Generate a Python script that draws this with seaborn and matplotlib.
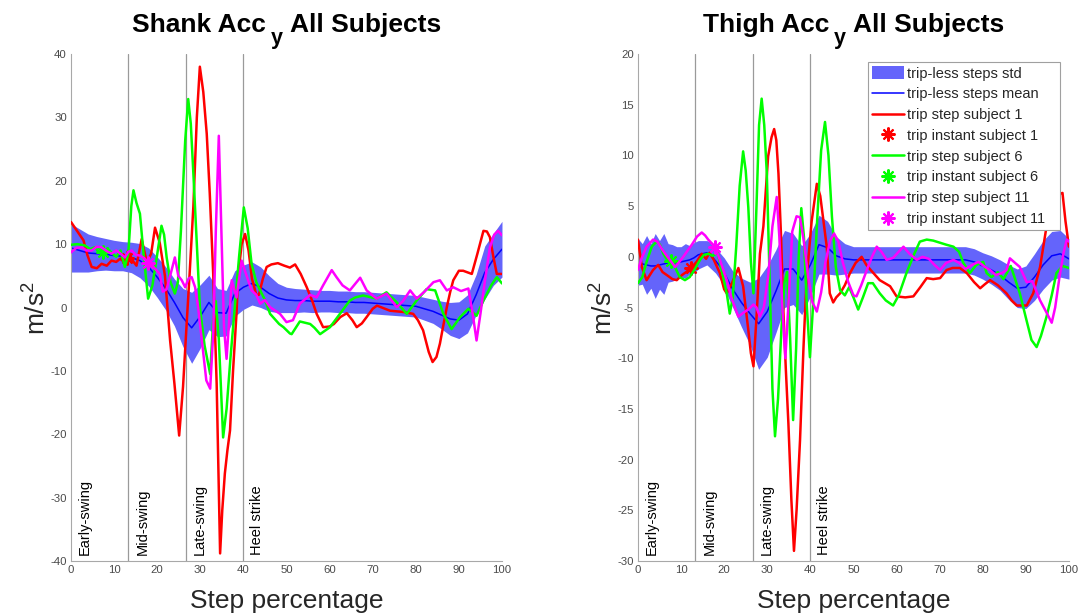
import matplotlib
matplotlib.use("Agg")
import numpy as np
import matplotlib.pyplot as plt
import seaborn as sns
from matplotlib.lines import Line2D
from matplotlib.patches import Patch

# ---------------------------------------------------------------- data
phase_bounds = [0.0, 13.33, 26.67, 40.0]
phase_names = ["Early-swing", "Mid-swing", "Late-swing", "Heel strike"]

# Shank: trip-less steps (mean and std)
shank_band_x = list(range(0, 101, 2))
shank_mean = [9.4, 9.0, 8.6, 8.5, 8.4, 8.2, 8.1, 7.9, 7.4, 6.4, 4.8, 3.0, 0.8, -1.6, -3.2, -1.4,
              0.8, -0.8, -0.9, 2.2, 3.2, 3.8, 3.2, 2.2, 1.5, 1.2, 1.1, 1.1, 1.0, 1.0, 1.0, 0.9,
              0.9, 0.8, 0.8, 0.7, 0.6, 0.5, 0.4, 0.3, 0.2, -0.2, -0.6, -1.2, -1.8, -2.0, -1.0,
              2.0, 5.5, 7.6, 9.2]
shank_std = [3.8, 3.4, 3.0, 2.7, 2.5, 2.4, 2.3, 2.4, 2.7, 3.0, 3.2, 3.4, 3.7, 4.6, 5.6, 5.0,
             4.3, 3.8, 3.6, 3.6, 3.5, 3.4, 3.2, 2.8, 2.3, 2.0, 1.9, 1.8, 1.8, 1.7, 1.7, 1.7,
             1.7, 1.7, 1.7, 1.7, 1.7, 1.7, 1.7, 1.7, 1.7, 1.8, 1.9, 2.2, 2.6, 2.9, 3.0,
             3.2, 4.2, 4.1, 4.4]

# Shank: trip steps
shank_s1_x = [0, 1.5, 2.9, 3.8, 4.8, 6.0, 7.1, 8.3, 9.4, 10.5, 11.4, 12.5, 13.3, 14.2, 15.2, 16.4,
              17.6, 18.6, 19.5, 20.6, 21.8, 23.0, 24.0, 25.1, 26.0, 26.8, 27.5, 28.4, 29.2, 29.9,
              30.7, 31.5, 32.2, 33.0, 33.8, 34.6, 35.1, 35.7, 36.3, 36.9, 37.6, 38.4, 38.8, 39.6,
              40.4, 41.2, 42.0, 43.0, 43.6, 44.5, 45.4, 46.5, 48.0, 49.5, 50.8, 52.0, 53.3, 54.7,
              56.0, 57.0, 58.5, 60.0, 61.0, 62.5, 64.0, 65.3, 66.3, 67.5, 68.6, 70.0, 71.0, 72.5,
              74.0, 75.5, 77.1, 79.4, 80.5, 81.7, 83.0, 83.9, 84.8, 85.6, 86.4, 87.2, 88.0, 88.7,
              90.0, 91.0, 93.0, 94.3, 95.7, 96.5, 97.2, 98.0, 98.8, 100]
shank_s1_y = [13.5, 12.0, 10.6, 8.3, 6.4, 6.2, 6.9, 6.6, 7.4, 7.2, 7.7, 7.1, 9.0, 7.5, 6.6, 10.8,
              7.1, 8.5, 12.6, 10.2, 5.0, -5.2, -12.0, -20.2, -12.5, -3.0, 5.0, 16.0, 30.0, 38.0,
              34.0, 27.4, 18.0, 5.3, -12.0, -38.8, -32.0, -26.2, -22.5, -19.4, -10.0, -1.0, 5.0, 10.0,
              11.6, 9.0, 4.5, 2.0, 2.0, 4.5, 6.4, 6.8, 7.0, 6.6, 6.3, 6.8, 5.3, 3.2,
              1.0, -1.0, -3.1, -3.0, -2.6, -1.5, -0.9, -2.0, -3.1, -2.5, -1.5, -0.2, 0.3, -0.1,
              -0.5, -0.6, -0.7, -1.0, -2.0, -3.6, -7.0, -8.6, -7.8, -5.7, -2.8, 0.05, 2.5, 4.3,
              5.8, 5.8, 5.3, 8.5, 12.1, 12.0, 11.1, 8.0, 5.3, 5.3]

shank_s6_x = [0, 1.5, 3.2, 4.5, 5.5, 6.5, 7.5, 8.5, 9.5, 10.5, 11.5, 12.5, 13.3, 14.0, 14.5, 15.2,
              16.0, 16.9, 17.9, 18.9, 19.9, 21.0, 21.6, 22.2, 23.1, 24.1, 24.8, 25.5, 26.5, 27.2,
              27.8, 28.4, 29.2, 29.9, 31.0, 32.3, 33.0, 33.6, 34.3, 35.3, 36.1, 37.0, 38.0, 39.0,
              40.1, 41.0, 41.9, 43.0, 43.9, 45.0, 46.2, 48.3, 49.3, 50.8, 51.2, 53.1, 55.5, 56.5,
              57.8, 60.1, 62.4, 64.7, 66.0, 67.8, 70.9, 73.2, 75.6, 77.9, 80.2, 82.5, 84.5, 86.4,
              88.3, 90.3, 92.2, 94.1, 95.7, 97.5, 98.8, 100]
shank_s6_y = [9.9, 10.0, 9.8, 9.2, 9.5, 8.8, 8.7, 9.3, 8.6, 8.0, 9.0, 6.4, 8.5, 16.0, 18.5, 16.5,
              14.8, 8.0, 1.4, 3.5, 7.9, 12.9, 11.5, 7.9, 4.0, 2.2, 4.0, 12.0, 26.3, 32.9,
              29.0, 21.1, 10.0, 0.05, -6.0, -10.5, -2.0, 1.0, -5.0, -20.5, -16.0, -8.0, 0.0, 8.0,
              15.8, 12.5, 6.9, 4.0, 2.7, 1.2, -1.0, -2.6, -3.1, -4.1, -4.2, -2.2, -2.6, -3.2,
              -4.2, -3.1, -1.0, 1.1, 1.6, 1.9, 1.4, 2.4, 0.8, -1.0, 1.1, 2.9, 2.7, -1.0,
              -3.4, -1.5, -0.2, -1.3, 1.1, 3.5, 4.8, 3.8]

shank_s11_x = [0, 1.2, 2.5, 3.6, 4.8, 6.0, 7.1, 8.3, 9.4, 10.5, 11.5, 12.5, 13.3, 14.1, 15.0, 16.0,
               17.0, 17.9, 19.0, 20.6, 21.3, 22.2, 23.2, 24.1, 24.9, 25.7, 26.5, 27.3, 28.0, 28.8,
               29.5, 30.5, 31.4, 32.3, 33.0, 33.6, 34.3, 34.9, 35.5, 36.1, 36.7, 37.3, 38.4, 39.6,
               40.5, 41.9, 43.0, 43.9, 45.0, 46.2, 48.5, 50.0, 51.5, 53.1, 55.5, 57.0, 58.5, 60.5,
               61.6, 63.0, 64.7, 67.1, 68.6, 70.9, 73.2, 75.6, 77.0, 78.7, 80.2, 82.0, 84.1, 85.6,
               87.2, 88.7, 90.5, 92.2, 93.2, 94.1, 95.0, 96.0, 97.2, 98.2, 99.1, 100]
shank_s11_y = [8.7, 9.4, 9.5, 9.0, 9.0, 9.6, 9.5, 8.9, 8.5, 9.0, 8.5, 7.9, 8.8, 9.0, 8.3, 8.2,
               7.8, 7.1, 6.5, 5.3, 2.5, 2.9, 5.5, 7.9, 5.0, 4.3, 3.2, 4.6, 4.8, 3.2,
               0.05, -6.0, -11.5, -12.8, -4.0, 12.0, 27.1, 12.0, -3.0, -8.1, -2.0, 4.3, 1.6, 7.4,
               5.5, 2.7, 2.0, 0.6, 1.2, 0.05, -1.0, -2.3, -2.0, 0.6, 2.0, 1.6, 3.5, 5.9,
               4.8, 3.5, 2.7, 4.7, 2.7, 1.4, 2.2, 0.05, 1.0, 2.7, 1.4, 2.5, 4.0, 4.3,
               2.7, 3.2, 2.6, 3.0, -1.0, -5.2, -1.0, 4.0, 9.5, 11.5, 12.1, 11.4]

# Shank: trip instants (x, y) per subject
shank_trip_x = [13.0, 7.5, 17.9]
shank_trip_y = [7.8, 8.7, 7.1]

# Thigh: trip-less steps (mean and std)
thigh_band_x = list(range(0, 21)) + list(range(22, 101, 2))
thigh_mean = [-0.5, -0.7, -0.8, -0.9, -0.9, -0.8, -0.7, -0.6, -0.6, -0.6, -0.5, -0.4, -0.3, -0.1,
              0.2, 0.3, 0.4, 0.1, -0.4, -0.9, -1.6,
              -3.2, -4.5, -5.6, -6.6, -5.4, -3.4, -1.2, -1.2, -2.3, -0.8, 1.2, 0.9, 0.1, -0.2,
              -0.3, -0.3, -0.3, -0.3, -0.3, -0.3, -0.3, -0.3, -0.3, -0.3, -0.3, -0.3, -0.3, -0.3,
              -0.5, -0.9, -1.3, -1.8, -2.5, -3.1, -3.0, -2.0, -0.8, 0.1, 0.3, -0.2]
thigh_std = [2.3, 2.0, 2.9, 2.2, 3.2, 2.4, 3.0, 1.9, 1.8, 1.6, 1.5, 1.7, 1.4, 1.5,
             1.4, 1.3, 1.2, 1.3, 1.2, 1.3, 1.5,
             1.8, 2.4, 3.1, 4.5, 4.5, 4.1, 3.8, 3.5, 3.4, 3.1, 2.9, 2.6, 1.9, 1.5,
             1.3, 1.3, 1.3, 1.3, 1.3, 1.3, 1.3, 1.3, 1.3, 1.3, 1.3, 1.3, 1.3, 1.3,
             1.3, 1.3, 1.4, 1.5, 1.7, 1.9, 2.1, 2.3, 2.4, 2.4, 2.3, 2.0]

# Thigh: trip steps
thigh_s1_x = [0, 0.9, 2.0, 3.5, 4.7, 5.7, 6.7, 8.0, 9.0, 10.2, 11.2, 12.5, 13.6, 14.8, 15.8, 16.6,
              17.6, 19.0, 20.0, 20.6, 21.8, 23.3, 24.4, 25.6, 26.2, 26.8, 27.5, 28.3, 29.1, 30.2,
              31.0, 31.6, 32.1, 32.6, 33.2, 33.7, 34.3, 34.9, 35.6, 36.2, 36.8, 37.6, 38.4, 39.1,
              40.3, 41.5, 42.3, 43.8, 44.5, 45.3, 46.0, 46.9, 48.0, 49.2, 50.5, 51.9, 53.0, 54.0,
              56.1, 58.5, 60.0, 62.0, 63.9, 65.5, 67.0, 68.5, 70.1, 71.6, 73.0, 74.7, 76.3, 78.0,
              79.4, 80.5, 81.7, 83.5, 85.5, 86.7, 87.9, 90.2, 91.7, 93.3, 94.8, 96.5, 97.8, 98.5,
              99.2, 100]
thigh_s1_y = [1.7, -1.0, -2.3, -1.3, -0.8, -1.5, -1.8, -2.2, -2.3, -1.8, -1.5, -1.0, -0.5, 0.3, -0.2, 0.4,
              -0.3, -1.6, -3.2, -3.6, -2.6, -1.1, -2.9, -7.2, -9.5, -10.8, -6.0, 0.3, 3.0, 9.9,
              11.8, 12.6, 11.5, 8.2, 2.0, -4.9, -11.0, -16.4, -24.0, -29.0, -25.0, -18.1, -9.0, -2.3,
              3.5, 7.2, 6.0, 1.0, -3.6, -4.5, -4.0, -3.6, -2.8, -1.6, -0.6, 0.0, -0.8, -1.3,
              -2.3, -2.9, -3.9, -4.0, -3.9, -3.0, -2.1, -2.2, -2.1, -1.3, -1.1, -1.1, -1.6, -2.5,
              -3.1, -2.7, -2.3, -2.8, -3.6, -4.3, -4.8, -4.8, -3.6, -1.0, 3.0, 5.2, 6.2, 6.3,
              3.5, 1.0]

thigh_s6_x = [0, 1.0, 2.0, 3.2, 4.3, 5.1, 5.9, 6.8, 7.8, 8.8, 9.7, 10.9, 12.0, 13.2, 14.4, 15.3,
              16.3, 17.3, 18.5, 19.5, 20.6, 21.3, 22.0, 22.8, 23.6, 24.4, 25.0, 25.6, 26.2, 26.8,
              27.5, 28.1, 28.7, 29.3, 29.9, 30.6, 31.2, 31.8, 32.5, 33.3, 34.0, 34.6, 35.3, 36.0,
              36.7, 37.3, 37.9, 38.5, 39.2, 39.9, 40.6, 41.5, 42.5, 43.4, 44.2, 45.0, 45.9, 46.9,
              48.0, 49.0, 50.0, 51.1, 52.2, 53.4, 54.5, 56.1, 57.5, 59.2, 60.5, 62.3, 64.0, 65.4,
              67.0, 68.5, 70.0, 71.5, 73.2, 74.5, 75.5, 77.0, 78.5, 80.1, 80.9, 82.0, 83.5, 84.8,
              86.5, 88.6, 90.0, 91.3, 92.5, 93.5, 94.8, 96.0, 97.1, 98.5, 100]
thigh_s6_y = [-2.6, -2.0, -0.5, 1.0, 1.5, 1.2, 0.3, -0.3, -0.3, -1.2, -2.0, -2.3, -2.0, -1.2, -0.3, 0.2,
              0.3, 0.1, 0.4, -1.5, -3.6, -5.6, -4.0, 1.0, 7.0, 10.4, 8.5, 4.9, -0.5, -3.6,
              5.0, 13.0, 15.6, 13.0, 8.2, -3.0, -13.0, -17.7, -14.0, -7.0, -2.5, -1.5, -8.0, -16.1,
              -9.0, 0.0, 4.8, 2.0, -5.0, -9.9, -5.0, 3.0, 10.5, 13.3, 10.0, 4.0, -1.0, -3.3,
              -3.8, -3.0, -4.0, -5.2, -4.0, -2.6, -2.6, -3.6, -4.3, -4.8, -3.8, -1.6, 0.2, 1.5,
              1.7, 1.6, 1.4, 1.2, 1.0, 0.5, -0.6, -1.6, -0.8, -0.5, -1.6, -2.0, -1.5, -2.2,
              -0.9, -3.6, -6.0, -8.2, -8.9, -7.8, -5.9, -3.8, -1.6, -0.9, -1.1]

thigh_s11_x = [0, 0.8, 2.0, 3.5, 4.5, 5.5, 6.5, 7.4, 8.6, 9.6, 10.5, 11.5, 12.5, 13.7, 14.8, 15.6,
               16.3, 17.2, 17.9, 19.0, 20.6, 21.8, 23.3, 24.5, 25.6, 26.8, 27.5, 28.3, 29.2, 30.2,
               31.2, 32.2, 32.8, 33.5, 34.2, 35.0, 35.8, 36.8, 37.6, 38.5, 39.5, 40.5, 41.5, 42.5,
               43.5, 44.6, 45.5, 46.5, 47.5, 48.8, 50.0, 50.7, 51.8, 53.1, 54.3, 55.4, 56.5, 57.7,
               59.2, 60.5, 61.6, 63.0, 64.7, 66.0, 67.5, 68.8, 70.1, 71.5, 73.2, 74.5, 76.0, 77.5,
               79.0, 80.5, 81.7, 83.0, 84.5, 85.5, 86.3, 87.5, 88.6, 90.2, 91.5, 93.3, 94.8, 96.0,
               96.8, 97.8, 98.8, 99.5, 100]
thigh_s11_y = [-1.3, -0.2, 1.0, 1.7, 1.5, 0.8, 0.2, -0.3, -1.0, -0.5, 0.0, 0.6, 1.2, 2.0, 2.4, 2.1,
               1.7, 1.3, 1.0, -0.3, -2.3, -4.2, -5.9, -5.5, -5.2, -4.7, -5.0, -5.9, -5.0, -2.0,
               3.0, 5.9, 2.0, -5.0, -10.0, -4.0, 2.5, 4.0, 3.9, 1.5, -2.0, -4.5, -5.4, -3.5,
               -0.5, 1.6, 2.3, 1.5, -0.5, -2.5, -3.8, -3.9, -2.8, -1.3, 0.0, 1.0, 0.5, -0.3,
               -0.1, 0.5, 1.0, 0.3, -0.3, 0.0, -0.2, -0.8, -1.3, -0.6, -0.3, -0.6, -1.2, -0.8,
               -0.5, -1.0, -1.3, -1.8, -1.6, -1.3, -0.15, -0.6, -1.0, -2.5, -2.4, -4.3, -5.5, -6.5,
               -5.0, -2.0, 0.5, 1.7, 1.5]

thigh_trip_x = [12.3, 7.6, 17.9]
thigh_trip_y = [-1.1, -0.4, 1.0]

subject_ids = [1, 6, 11]
subject_colors = ["#ff0000", "#00ff00", "#ff00ff"]

# ---------------------------------------------------------------- style
sns.set_style("white")
plt.rcParams["font.family"] = ["Liberation Sans", "DejaVu Sans"]
plt.rcParams["mathtext.fontset"] = "custom"
plt.rcParams["mathtext.rm"] = "Liberation Sans"
plt.rcParams["mathtext.it"] = "Liberation Sans:italic"
plt.rcParams["mathtext.bf"] = "Liberation Sans:bold"
plt.rcParams["axes.unicode_minus"] = False

FILL = "#6464fb"
MEAN = "#0000ff"
AXIS_GRAY = "#a8a8a8"
TICK_TEXT = "#4a4a4a"
STAR = (8, 2, 0)
STAR_SIZE = 10

W_PX, H_PX = 1087, 614
fig = plt.figure(figsize=(W_PX / 100, H_PX / 100), dpi=100)
ax_l = fig.add_axes([0.0653, 0.0863, 0.3965, 0.8257])
ax_r = fig.add_axes([0.5869, 0.0863, 0.3965, 0.8257])
renderer = fig.canvas.get_renderer()


def subscript_title(ax, head, sub, tail):
    """Bold title with a large, dropped subscript between two pieces of text."""
    kw = dict(fontweight="bold", color="black", va="baseline", ha="left")
    t_head = fig.text(0, 0, head, fontsize=19, **kw)
    t_sub = fig.text(0, 0, sub, fontsize=15.5, **kw)
    t_tail = fig.text(0, 0, tail, fontsize=19, **kw)
    w_head = t_head.get_window_extent(renderer).width
    w_sub = t_sub.get_window_extent(renderer).width
    w_tail = t_tail.get_window_extent(renderer).width
    gap1, gap2 = 5.0, 7.0
    total = w_head + gap1 + w_sub + gap2 + w_tail
    pos = ax.get_position()
    cx = (pos.x0 + pos.x1) / 2 * W_PX
    base = pos.y1 * H_PX + 22.0
    x0 = cx - total / 2
    t_head.set_position((x0 / W_PX, base / H_PX))
    t_sub.set_position(((x0 + w_head + gap1) / W_PX, (base - 11.5) / H_PX))
    t_tail.set_position(((x0 + w_head + gap1 + w_sub + gap2) / W_PX, base / H_PX))


def draw_panel(ax, band_x, mean, std, subj_x, subj_y, trip_x, trip_y, ylim, ystep):
    band_x = np.asarray(band_x, float)
    mean = np.asarray(mean, float)
    std = np.asarray(std, float)

    for b in phase_bounds[1:]:
        ax.axvline(b, color="#9a9a9a", lw=0.9, zorder=0.5)

    ax.fill_between(band_x, mean - std, mean + std, color=FILL, lw=0, zorder=1)
    sns.lineplot(x=band_x, y=mean, ax=ax, color=MEAN, lw=1.1, estimator=None,
                 sort=False, zorder=2)
    for k in range(3):
        sns.lineplot(x=subj_x[k], y=subj_y[k], ax=ax, color=subject_colors[k], lw=1.8,
                     estimator=None, sort=False, zorder=3 + 2 * k)
        ax.plot([trip_x[k]], [trip_y[k]], ls="none", marker=STAR, ms=STAR_SIZE, mew=1.5,
                color=subject_colors[k], zorder=4 + 2 * k)

    y_lo = ylim[0]
    for b, name in zip(phase_bounds, phase_names):
        ax.text(b + 1.6, y_lo + (ylim[1] - ylim[0]) * 0.012, name, rotation=90,
                ha="left", va="bottom", fontsize=10.5, color="black", zorder=10)

    ax.set_xlim(0, 100)
    ax.set_ylim(*ylim)
    ticks = np.arange(ylim[0], ylim[1] + 0.1, ystep)
    ax.set_xticks(range(0, 101, 10))
    ax.set_yticks(ticks)
    ax.set_yticklabels([f"{int(v)}" for v in ticks])
    ax.tick_params(direction="in", length=4, width=0.8, color=AXIS_GRAY,
                   labelsize=8.2, labelcolor=TICK_TEXT, pad=3)
    for side in ("top", "right"):
        ax.spines[side].set_visible(False)
    for side in ("left", "bottom"):
        ax.spines[side].set_color(AXIS_GRAY)
        ax.spines[side].set_linewidth(0.8)
    ax.set_xlabel("Step percentage", fontsize=19, color="#262626", labelpad=10)
    ax.set_ylabel("m/s$^2$", fontsize=19, color="#262626", labelpad=0)


draw_panel(ax_l, shank_band_x, shank_mean, shank_std,
           [shank_s1_x, shank_s6_x, shank_s11_x], [shank_s1_y, shank_s6_y, shank_s11_y],
           shank_trip_x, shank_trip_y, (-40, 40), 10)
draw_panel(ax_r, thigh_band_x, thigh_mean, thigh_std,
           [thigh_s1_x, thigh_s6_x, thigh_s11_x], [thigh_s1_y, thigh_s6_y, thigh_s11_y],
           thigh_trip_x, thigh_trip_y, (-30, 20), 5)

subscript_title(ax_l, "Shank Acc", "y", "All Subjects")
subscript_title(ax_r, "Thigh Acc", "y", "All Subjects")

handles = [Patch(facecolor=FILL, edgecolor="none"),
           Line2D([], [], color=MEAN, lw=1.1)]
labels = ["trip-less steps std", "trip-less steps mean"]
for sid, col in zip(subject_ids, subject_colors):
    handles.append(Line2D([], [], color=col, lw=1.8))
    labels.append(f"trip step subject {sid}")
    handles.append(Line2D([], [], color=col, ls="none", marker=STAR, ms=STAR_SIZE, mew=1.5))
    labels.append(f"trip instant subject {sid}")

# legend box spanning a fixed region in the upper right of the thigh panel
leg = ax_r.legend(handles, labels, loc="upper left", mode="expand",
                  bbox_to_anchor=(0.5336, 0.0, 0.4455, 0.9842), borderaxespad=0.0,
                  fontsize=10.5, frameon=True, fancybox=False, framealpha=1,
                  edgecolor="#a0a0a0", handlelength=2.2, handleheight=0.9,
                  handletextpad=0.2, labelspacing=0.46, borderpad=0.3)
leg.get_frame().set_linewidth(0.8)
leg.set_zorder(20)

fig.savefig("out.png", dpi=100)
